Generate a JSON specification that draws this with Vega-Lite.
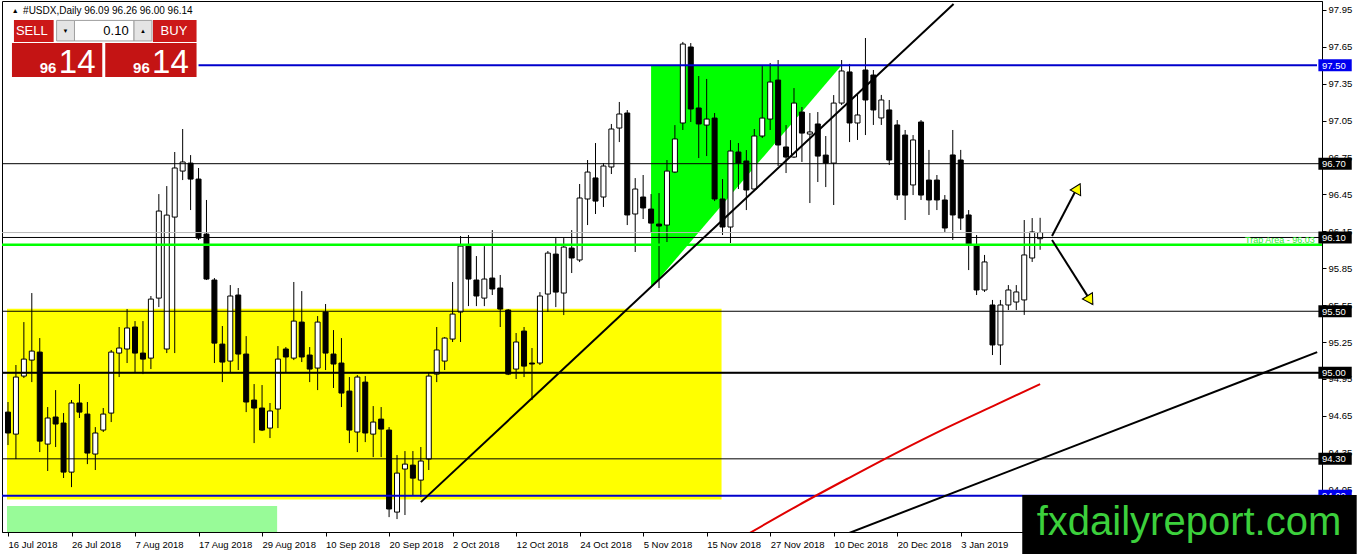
{
 "$schema": "https://vega.github.io/schema/vega-lite/v6.json",
 "width": 1320,
 "height": 531,
 "autosize": {"type": "none"},
 "padding": {"left": 2, "top": 1, "right": 40, "bottom": 22},
 "background": "white",
 "config": {"view": {"stroke": "black", "strokeWidth": 1}, "font": "Liberation Sans"},
 "data": {"values": [{}]},
 "datasets": {
  "candles": [
   {"i":0,"o":94.680,"h":94.762,"l":94.412,"c":94.510},
   {"i":1,"o":94.501,"h":95.063,"l":94.298,"c":94.965},
   {"i":2,"o":94.973,"h":95.412,"l":94.957,"c":95.111},
   {"i":3,"o":95.103,"h":95.648,"l":94.924,"c":95.176},
   {"i":4,"o":95.168,"h":95.282,"l":94.355,"c":94.444},
   {"i":5,"o":94.420,"h":94.721,"l":94.201,"c":94.632},
   {"i":6,"o":94.640,"h":94.859,"l":94.396,"c":94.583},
   {"i":7,"o":94.591,"h":94.672,"l":94.144,"c":94.192},
   {"i":8,"o":94.192,"h":94.778,"l":94.070,"c":94.754},
   {"i":9,"o":94.754,"h":94.908,"l":94.632,"c":94.680},
   {"i":10,"o":94.664,"h":94.762,"l":94.257,"c":94.347},
   {"i":11,"o":94.339,"h":94.558,"l":94.209,"c":94.510},
   {"i":12,"o":94.534,"h":94.713,"l":94.518,"c":94.664},
   {"i":13,"o":94.672,"h":95.185,"l":94.599,"c":95.168},
   {"i":14,"o":95.160,"h":95.372,"l":94.965,"c":95.201},
   {"i":15,"o":95.193,"h":95.518,"l":95.079,"c":95.364},
   {"i":16,"o":95.372,"h":95.420,"l":95.006,"c":95.160},
   {"i":17,"o":95.160,"h":95.420,"l":94.989,"c":95.111},
   {"i":18,"o":95.119,"h":95.624,"l":95.030,"c":95.599},
   {"i":19,"o":95.607,"h":96.453,"l":95.534,"c":96.315},
   {"i":20,"o":95.193,"h":96.518,"l":95.160,"c":96.282},
   {"i":21,"o":96.266,"h":96.795,"l":95.160,"c":96.665},
   {"i":22,"o":96.640,"h":96.982,"l":96.567,"c":96.714},
   {"i":23,"o":96.705,"h":96.770,"l":96.323,"c":96.575},
   {"i":24,"o":96.575,"h":96.665,"l":96.079,"c":96.095},
   {"i":25,"o":96.128,"h":96.405,"l":95.754,"c":95.762},
   {"i":26,"o":95.754,"h":95.770,"l":95.079,"c":95.241},
   {"i":27,"o":95.233,"h":95.380,"l":94.924,"c":95.087},
   {"i":28,"o":95.095,"h":95.713,"l":94.998,"c":95.624},
   {"i":29,"o":95.632,"h":95.689,"l":95.022,"c":95.152},
   {"i":30,"o":95.152,"h":95.298,"l":94.680,"c":94.762},
   {"i":31,"o":94.778,"h":94.908,"l":94.428,"c":94.713},
   {"i":32,"o":94.713,"h":94.900,"l":94.526,"c":94.534},
   {"i":33,"o":94.550,"h":94.754,"l":94.469,"c":94.689},
   {"i":34,"o":94.705,"h":95.217,"l":94.550,"c":95.111},
   {"i":35,"o":95.193,"h":95.209,"l":95.006,"c":95.128},
   {"i":36,"o":95.119,"h":95.738,"l":95.103,"c":95.420},
   {"i":37,"o":95.412,"h":95.664,"l":95.087,"c":95.128},
   {"i":38,"o":95.144,"h":95.209,"l":94.924,"c":95.030},
   {"i":39,"o":95.038,"h":95.461,"l":94.859,"c":95.412},
   {"i":40,"o":95.494,"h":95.559,"l":95.022,"c":95.160},
   {"i":41,"o":95.152,"h":95.347,"l":94.876,"c":95.071},
   {"i":42,"o":95.079,"h":95.282,"l":94.721,"c":94.835},
   {"i":43,"o":94.851,"h":94.965,"l":94.428,"c":94.534},
   {"i":44,"o":94.518,"h":94.981,"l":94.355,"c":94.965},
   {"i":45,"o":94.924,"h":94.973,"l":94.436,"c":94.510},
   {"i":46,"o":94.501,"h":94.729,"l":94.314,"c":94.599},
   {"i":47,"o":94.623,"h":94.721,"l":94.314,"c":94.542},
   {"i":48,"o":94.534,"h":94.558,"l":93.826,"c":93.892},
   {"i":49,"o":93.867,"h":94.331,"l":93.810,"c":94.184},
   {"i":50,"o":94.217,"h":94.363,"l":93.843,"c":94.257},
   {"i":51,"o":94.249,"h":94.363,"l":94.005,"c":94.143},
   {"i":52,"o":94.127,"h":94.396,"l":93.989,"c":94.282},
   {"i":53,"o":94.298,"h":95.006,"l":94.209,"c":94.973},
   {"i":54,"o":94.989,"h":95.372,"l":94.924,"c":95.185},
   {"i":55,"o":95.095,"h":95.290,"l":95.022,"c":95.282},
   {"i":56,"o":95.274,"h":95.738,"l":95.250,"c":95.477},
   {"i":57,"o":95.494,"h":96.112,"l":95.250,"c":96.030},
   {"i":58,"o":96.030,"h":96.120,"l":95.542,"c":95.762},
   {"i":59,"o":95.754,"h":95.949,"l":95.542,"c":95.624},
   {"i":60,"o":95.607,"h":96.030,"l":95.542,"c":95.762},
   {"i":61,"o":95.770,"h":96.160,"l":95.632,"c":95.681},
   {"i":62,"o":95.689,"h":95.795,"l":95.372,"c":95.518},
   {"i":63,"o":95.510,"h":95.518,"l":94.981,"c":94.989},
   {"i":64,"o":95.030,"h":95.323,"l":94.949,"c":95.250},
   {"i":65,"o":95.339,"h":95.372,"l":94.965,"c":95.054},
   {"i":66,"o":95.079,"h":95.201,"l":94.778,"c":95.071},
   {"i":67,"o":95.079,"h":95.656,"l":95.063,"c":95.624},
   {"i":68,"o":95.640,"h":95.990,"l":95.494,"c":95.973},
   {"i":69,"o":95.965,"h":96.095,"l":95.534,"c":95.656},
   {"i":70,"o":95.648,"h":96.095,"l":95.469,"c":96.022},
   {"i":71,"o":96.014,"h":96.160,"l":95.811,"c":95.933},
   {"i":72,"o":95.917,"h":96.535,"l":95.900,"c":96.421},
   {"i":73,"o":96.413,"h":96.730,"l":96.201,"c":96.632},
   {"i":74,"o":96.584,"h":96.868,"l":96.291,"c":96.396},
   {"i":75,"o":96.429,"h":96.705,"l":96.348,"c":96.681},
   {"i":76,"o":96.673,"h":97.023,"l":96.616,"c":96.982},
   {"i":77,"o":96.990,"h":97.202,"l":96.876,"c":97.104},
   {"i":78,"o":97.112,"h":97.136,"l":96.201,"c":96.283},
   {"i":79,"o":96.291,"h":96.583,"l":95.982,"c":96.494},
   {"i":80,"o":96.429,"h":96.608,"l":96.250,"c":96.340},
   {"i":81,"o":96.331,"h":96.453,"l":96.144,"c":96.217},
   {"i":82,"o":96.209,"h":96.461,"l":95.689,"c":96.193},
   {"i":83,"o":96.201,"h":96.730,"l":96.063,"c":96.640},
   {"i":84,"o":96.632,"h":97.014,"l":96.624,"c":96.901},
   {"i":85,"o":97.031,"h":97.690,"l":96.974,"c":97.673},
   {"i":86,"o":97.649,"h":97.681,"l":97.039,"c":97.145},
   {"i":87,"o":97.153,"h":97.413,"l":96.746,"c":97.023},
   {"i":88,"o":97.014,"h":97.389,"l":96.762,"c":97.063},
   {"i":89,"o":97.071,"h":97.112,"l":96.396,"c":96.413},
   {"i":90,"o":96.413,"h":96.575,"l":96.120,"c":96.185},
   {"i":91,"o":96.185,"h":96.892,"l":96.055,"c":96.803},
   {"i":92,"o":96.795,"h":96.868,"l":96.494,"c":96.705},
   {"i":93,"o":96.722,"h":96.811,"l":96.323,"c":96.486},
   {"i":94,"o":96.494,"h":96.982,"l":96.486,"c":96.925},
   {"i":95,"o":96.925,"h":97.502,"l":96.909,"c":97.071},
   {"i":96,"o":97.063,"h":97.519,"l":96.974,"c":97.364},
   {"i":97,"o":97.380,"h":97.543,"l":96.681,"c":96.852},
   {"i":98,"o":96.836,"h":97.014,"l":96.624,"c":96.754},
   {"i":99,"o":96.754,"h":97.315,"l":96.746,"c":97.193},
   {"i":100,"o":97.120,"h":97.161,"l":96.714,"c":96.949},
   {"i":101,"o":96.941,"h":97.112,"l":96.380,"c":96.958},
   {"i":102,"o":97.023,"h":97.120,"l":96.551,"c":96.762},
   {"i":103,"o":96.770,"h":96.925,"l":96.510,"c":96.705},
   {"i":104,"o":96.705,"h":97.258,"l":96.364,"c":97.193},
   {"i":105,"o":97.193,"h":97.543,"l":97.177,"c":97.454},
   {"i":106,"o":97.446,"h":97.511,"l":96.876,"c":97.031},
   {"i":107,"o":97.031,"h":97.259,"l":96.893,"c":97.096},
   {"i":108,"o":97.462,"h":97.722,"l":96.933,"c":97.218},
   {"i":109,"o":97.421,"h":97.462,"l":97.015,"c":97.137},
   {"i":110,"o":97.072,"h":97.259,"l":97.015,"c":97.218},
   {"i":111,"o":97.137,"h":97.218,"l":96.689,"c":96.730},
   {"i":112,"o":97.015,"h":97.055,"l":96.405,"c":96.445},
   {"i":113,"o":96.933,"h":96.974,"l":96.242,"c":96.445},
   {"i":114,"o":96.527,"h":96.933,"l":96.445,"c":96.893},
   {"i":115,"o":97.039,"h":97.055,"l":96.405,"c":96.445},
   {"i":116,"o":96.567,"h":96.812,"l":96.283,"c":96.405},
   {"i":117,"o":96.567,"h":96.608,"l":96.323,"c":96.405},
   {"i":118,"o":96.405,"h":96.445,"l":96.145,"c":96.177},
   {"i":119,"o":96.771,"h":96.974,"l":96.080,"c":96.283},
   {"i":120,"o":96.730,"h":96.812,"l":96.161,"c":96.258},
   {"i":121,"o":96.283,"h":96.323,"l":95.835,"c":96.039},
   {"i":122,"o":96.039,"h":96.120,"l":95.632,"c":95.673},
   {"i":123,"o":95.673,"h":95.958,"l":95.657,"c":95.901},
   {"i":124,"o":95.551,"h":95.592,"l":95.144,"c":95.226},
   {"i":125,"o":95.226,"h":95.592,"l":95.063,"c":95.551},
   {"i":126,"o":95.551,"h":95.713,"l":95.510,"c":95.673},
   {"i":127,"o":95.575,"h":95.713,"l":95.510,"c":95.657},
   {"i":128,"o":95.592,"h":96.242,"l":95.470,"c":95.958},
   {"i":129,"o":95.933,"h":96.258,"l":95.901,"c":96.145},
   {"i":130,"o":96.09,"h":96.26,"l":96.00,"c":96.14}
  ],
  "ma": [
   {"i":93.4,"p":93.696},{"i":99.6,"p":93.924},{"i":105.9,"p":94.144},{"i":112.1,"p":94.355},
   {"i":118.4,"p":94.558},{"i":124.6,"p":94.745},{"i":130,"p":94.908}
  ],
  "trend": [
   {"line":"a","i":52.0,"p":93.948},{"line":"a","i":119.1,"p":97.998},
   {"line":"b","i":105.9,"p":93.696},{"line":"b","i":164.9,"p":95.168}
  ],
  "arrows": [
   {"a":"up","i":131.5,"p":96.112},{"a":"up","i":134.8,"p":96.52},
   {"a":"down","i":131.5,"p":96.079},{"a":"down","i":136.6,"p":95.56}
  ],
  "triangle": [
   {"i":81,"top":97.50,"bot":95.689},{"i":105,"top":97.50,"bot":97.50}
  ],
  "blackLevels": [{"p":96.70},{"p":96.10},{"p":95.50},{"p":95.00},{"p":94.30}],
  "blueLevels": [{"p":97.50},{"p":94.00}]
 },
 "layer": [
  {"mark": {"type": "rect", "fill": "#98FB98"},
   "encoding": {"x": {"datum": -0.125}, "x2": {"datum": 33.9}, "y": {"datum": 93.916}, "y2": {"datum": 93.705}}},
  {"mark": {"type": "rect", "fill": "#FFFF00"},
   "encoding": {"x": {"datum": -0.125}, "x2": {"datum": 89.875}, "y": {"datum": 95.52}, "y2": {"datum": 93.97}}},
  {"data": {"name": "triangle"},
   "mark": {"type": "area", "fill": "#00FF00", "opacity": 1},
   "encoding": {"x": {"field": "i", "type": "quantitative", "title": null}, "y": {"field": "top", "type": "quantitative", "title": null}, "y2": {"field": "bot"}}},
  {"data": {"name": "candles"},
   "mark": {"type": "rule", "color": "black", "strokeWidth": 1},
   "encoding": {
    "x": {"field": "i", "type": "quantitative", "title": null,
     "scale": {"domain": [-0.125, 164.875], "nice": false, "zero": false},
     "axis": {"orient": "bottom", "values": [0,8,16,24,32,40,48,56,64,72,80,88,96,104,112,120],
      "labelExpr": "['16 Jul 2018','26 Jul 2018','7 Aug 2018','17 Aug 2018','29 Aug 2018','10 Sep 2018','20 Sep 2018','2 Oct 2018','12 Oct 2018','24 Oct 2018','5 Nov 2018','15 Nov 2018','27 Nov 2018','10 Dec 2018','20 Dec 2018','3 Jan 2019'][round(datum.value/8)]",
      "labelAlign": "left", "labelPadding": 3, "tickSize": 4, "domainColor": "black", "tickColor": "black",
      "labelColor": "black", "labelFontSize": 9.5, "labelFont": "Liberation Sans", "grid": false, "title": null,
      "labelOverlap": false, "labelFlush": false, "labelBound": false}},
    "y": {"field": "l", "type": "quantitative", "title": null,
     "scale": {"domain": [93.705, 98.023], "nice": false, "zero": false},
     "axis": {"orient": "right", "values": [94.05,94.35,94.65,94.95,95.25,95.55,95.85,96.15,96.45,96.75,97.05,97.35,97.65,97.95],
      "format": ".2f", "tickSize": 4, "labelPadding": 2, "domainColor": "black", "tickColor": "black",
      "labelColor": "black", "labelFontSize": 9.5, "labelFont": "Liberation Sans", "grid": false, "title": null,
      "labelOverlap": false, "labelFlush": false, "labelBound": false}},
    "y2": {"field": "h"}}},
  {"data": {"name": "candles"},
   "mark": {"type": "bar", "size": 5, "stroke": "black", "strokeWidth": 1},
   "encoding": {
    "x": {"field": "i", "type": "quantitative", "title": null},
    "y": {"field": "o", "type": "quantitative", "title": null},
    "y2": {"field": "c"},
    "fill": {"condition": {"test": "datum.c < datum.o", "value": "black"}, "value": "white"}}},
  {"mark": {"type": "rule", "stroke": "#b8b8b8", "strokeWidth": 1},
   "encoding": {"y": {"datum": 96.14}}},
  {"mark": {"type": "rule", "stroke": "#00FF00", "strokeWidth": 2.5},
   "encoding": {"y": {"datum": 96.04}}},
  {"data": {"name": "blackLevels"},
   "mark": {"type": "rule", "stroke": "black", "strokeWidth": 1},
   "encoding": {"y": {"field": "p", "type": "quantitative", "title": null}}},
  {"mark": {"type": "rule", "stroke": "black", "strokeWidth": 2},
   "encoding": {"y": {"datum": 95.00}}},
  {"mark": {"type": "rule", "stroke": "#0000CC", "strokeWidth": 2},
   "encoding": {"y": {"datum": 94.00}}},
  {"mark": {"type": "rule", "stroke": "#0000CC", "strokeWidth": 2},
   "encoding": {"x": {"datum": 24}, "x2": {"datum": 164.875}, "y": {"datum": 97.50}}},
  {"data": {"name": "trend"},
   "mark": {"type": "line", "stroke": "black", "strokeWidth": 2, "clip": true},
   "encoding": {"x": {"field": "i", "type": "quantitative", "title": null}, "y": {"field": "p", "type": "quantitative", "title": null}, "detail": {"field": "line"}}},
  {"data": {"name": "ma"},
   "mark": {"type": "line", "stroke": "#E00000", "strokeWidth": 2, "clip": true, "interpolate": "monotone"},
   "encoding": {"x": {"field": "i", "type": "quantitative", "title": null}, "y": {"field": "p", "type": "quantitative", "title": null}}},
  {"data": {"name": "arrows"},
   "mark": {"type": "line", "stroke": "black", "strokeWidth": 2},
   "encoding": {"x": {"field": "i", "type": "quantitative", "title": null}, "y": {"field": "p", "type": "quantitative", "title": null}, "detail": {"field": "a"}}},
  {"mark": {"type": "point", "shape": "triangle-up", "angle": 28, "size": 140, "filled": true, "fill": "#FFFF00", "stroke": "black", "strokeWidth": 1, "opacity": 1},
   "encoding": {"x": {"datum": 134.75}, "y": {"datum": 96.50}}},
  {"mark": {"type": "point", "shape": "triangle-down", "angle": -32, "size": 140, "filled": true, "fill": "#FFFF00", "stroke": "black", "strokeWidth": 1, "opacity": 1},
   "encoding": {"x": {"datum": 136.3}, "y": {"datum": 95.59}}},
  {"mark": {"type": "text", "text": "Trap Area - 96.03", "align": "right", "baseline": "alphabetic", "fontSize": 9, "fill": "#33EE33", "font": "Liberation Sans"},
   "encoding": {"x": {"datum": 164.6}, "y": {"datum": 96.055}}},
  {"data": {"name": "blackLevels"},
   "mark": {"type": "rect", "fill": "black", "yOffset": -6, "y2Offset": 6},
   "encoding": {"x": {"datum": 165.05}, "x2": {"datum": 169.25}, "y": {"field": "p", "type": "quantitative", "title": null}, "y2": {"field": "p"}}},
  {"data": {"name": "blueLevels"},
   "mark": {"type": "rect", "fill": "#0000EE", "yOffset": -6, "y2Offset": 6},
   "encoding": {"x": {"datum": 165.05}, "x2": {"datum": 169.25}, "y": {"field": "p", "type": "quantitative", "title": null}, "y2": {"field": "p"}}},
  {"data": {"name": "blackLevels"},
   "mark": {"type": "text", "align": "left", "baseline": "middle", "fontSize": 9.5, "fill": "white", "font": "Liberation Sans", "dy": 0.5},
   "encoding": {"x": {"datum": 165.5}, "y": {"field": "p", "type": "quantitative", "title": null}, "text": {"field": "p", "format": ".2f"}}},
  {"data": {"name": "blueLevels"},
   "mark": {"type": "text", "align": "left", "baseline": "middle", "fontSize": 9.5, "fill": "white", "font": "Liberation Sans", "dy": 0.5},
   "encoding": {"x": {"datum": 165.5}, "y": {"field": "p", "type": "quantitative", "title": null}, "text": {"field": "p", "format": ".2f"}}},
  {"mark": {"type": "rect", "fill": "black"},
   "encoding": {"x": {"datum": 127.75}, "x2": {"datum": 169.875}, "y": {"datum": 94.005}, "y2": {"datum": 93.526}}},
  {"mark": {"type": "text", "text": "fxdailyreport.com", "align": "center", "baseline": "alphabetic", "fontSize": 40, "fill": "#3CD03C", "font": "Liberation Sans"},
   "encoding": {"x": {"datum": 148.75}, "y": {"datum": 93.68}}},
  {"mark": {"type": "text", "text": "▲", "align": "center", "baseline": "middle", "fontSize": 7, "fill": "black"},
   "encoding": {"x": {"datum": 0.9}, "y": {"datum": 97.945}}},
  {"mark": {"type": "text", "text": "#USDX,Daily  96.09 96.26 96.00 96.14", "align": "left", "baseline": "middle", "fontSize": 10, "fill": "black", "font": "Liberation Sans"},
   "encoding": {"x": {"datum": 1.9}, "y": {"datum": 97.945}}},
  {"mark": {"type": "rect", "fill": "#CC1818"},
   "encoding": {"x": {"datum": 0.75}, "x2": {"datum": 5.75}, "y": {"datum": 97.869}, "y2": {"datum": 97.690}}},
  {"mark": {"type": "rect", "fill": "#CC1818"},
   "encoding": {"x": {"datum": 18.25}, "x2": {"datum": 23.75}, "y": {"datum": 97.869}, "y2": {"datum": 97.690}}},
  {"mark": {"type": "rect", "fill": "#E4E4E4", "stroke": "#A0A0A0", "strokeWidth": 1},
   "encoding": {"x": {"datum": 6.125}, "x2": {"datum": 8.375}, "y": {"datum": 97.865}, "y2": {"datum": 97.698}}},
  {"mark": {"type": "rect", "fill": "white", "stroke": "#A0A0A0", "strokeWidth": 1},
   "encoding": {"x": {"datum": 8.375}, "x2": {"datum": 15.875}, "y": {"datum": 97.865}, "y2": {"datum": 97.698}}},
  {"mark": {"type": "rect", "fill": "#E4E4E4", "stroke": "#A0A0A0", "strokeWidth": 1},
   "encoding": {"x": {"datum": 15.875}, "x2": {"datum": 18.125}, "y": {"datum": 97.865}, "y2": {"datum": 97.698}}},
  {"mark": {"type": "rect", "fill": "#C41414"},
   "encoding": {"x": {"datum": 0.5}, "x2": {"datum": 11.875}, "y": {"datum": 97.682}, "y2": {"datum": 97.405}}},
  {"mark": {"type": "rect", "fill": "#C41414"},
   "encoding": {"x": {"datum": 12.25}, "x2": {"datum": 23.75}, "y": {"datum": 97.682}, "y2": {"datum": 97.405}}},
  {"mark": {"type": "text", "text": "SELL", "align": "center", "baseline": "middle", "fontSize": 13, "fill": "white", "font": "Liberation Sans"},
   "encoding": {"x": {"datum": 3.0}, "y": {"datum": 97.779}}},
  {"mark": {"type": "text", "text": "BUY", "align": "center", "baseline": "middle", "fontSize": 13, "fill": "white", "font": "Liberation Sans"},
   "encoding": {"x": {"datum": 20.9}, "y": {"datum": 97.779}}},
  {"mark": {"type": "text", "text": "▼", "align": "center", "baseline": "middle", "fontSize": 6, "fill": "black"},
   "encoding": {"x": {"datum": 7.25}, "y": {"datum": 97.779}}},
  {"mark": {"type": "text", "text": "▲", "align": "center", "baseline": "middle", "fontSize": 6, "fill": "black"},
   "encoding": {"x": {"datum": 17.0}, "y": {"datum": 97.779}}},
  {"mark": {"type": "text", "text": "0.10", "align": "right", "baseline": "middle", "fontSize": 13, "fill": "black", "font": "Liberation Sans"},
   "encoding": {"x": {"datum": 15.2}, "y": {"datum": 97.779}}},
  {"mark": {"type": "text", "text": "96", "align": "left", "baseline": "alphabetic", "fontSize": 15, "fontWeight": "bold", "fill": "white", "font": "Liberation Sans"},
   "encoding": {"x": {"datum": 4.0}, "y": {"datum": 97.438}}},
  {"mark": {"type": "text", "text": "14", "align": "left", "baseline": "alphabetic", "fontSize": 33, "fill": "white", "font": "Liberation Sans"},
   "encoding": {"x": {"datum": 6.4}, "y": {"datum": 97.438}}},
  {"mark": {"type": "text", "text": "96", "align": "left", "baseline": "alphabetic", "fontSize": 15, "fontWeight": "bold", "fill": "white", "font": "Liberation Sans"},
   "encoding": {"x": {"datum": 15.75}, "y": {"datum": 97.438}}},
  {"mark": {"type": "text", "text": "14", "align": "left", "baseline": "alphabetic", "fontSize": 33, "fill": "white", "font": "Liberation Sans"},
   "encoding": {"x": {"datum": 18.15}, "y": {"datum": 97.438}}}
 ]
}
